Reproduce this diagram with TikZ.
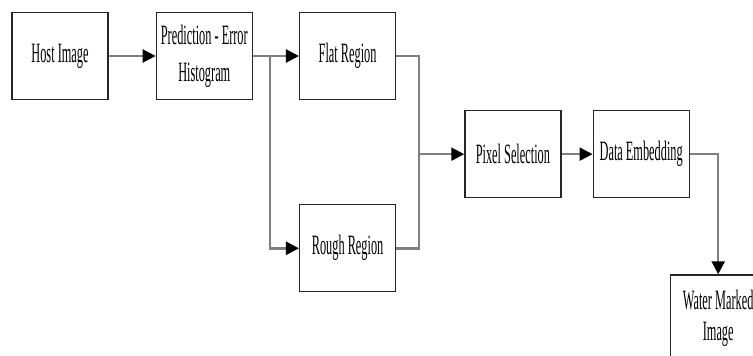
\documentclass[tikz,border=0pt]{standalone}
\usepackage{fontspec}
\setmainfont{Liberation Serif}[FakeStretch=0.44]
\usepackage{tikz}
\usetikzlibrary{arrows.meta,positioning,calc}
\tikzstyle{block} = [rectangle, draw=black!85, line width=1.3pt, minimum width=96pt, minimum height=87pt, align=center, font=\fontsize{28}{31}\selectfont]
\tikzstyle{line} = [line width=2.4pt, draw=black!50]
\tikzstyle{arrow} = [line, -{Triangle[length=13pt,width=13pt,color=black]}]

\begin{document}
\begin{tikzpicture}[x=1pt, y=-1pt]
    \clip (0,0) rectangle (753,356);
    \node[block] (host) at (60,56) {Host Image};
    \node[block, right=47pt of host] (pred) {Prediction - Error\\[6pt]Histogram};
    \node[block, right=46pt of pred] (flat) {Flat Region};
    \node[block, below=104pt of flat] (rough) {Rough Region};
    % split and merge points of the two regions
    \coordinate (split) at ($(pred.east)+(17pt,0)$);
    \coordinate (merge) at ($(flat.east)!.5!(rough.east)+(23pt,-2pt)$);
    \node[block, anchor=west] (pixel) at ($(merge)+(45pt,0)$) {Pixel Selection};
    \node[block, right=31pt of pixel] (data) {Data Embedding};
    \node[block, below=76pt of data, xshift=77pt] (water) {Water Marked\\Image};
    \draw[arrow] (host) -- (pred);
    \draw[arrow] (pred) -- (flat);
    \draw[arrow] (split) |- (rough);
    \draw[line] (flat) -| (merge) |- (rough);
    \draw[arrow] (merge) -- (pixel);
    \draw[arrow] (pixel) -- (data);
    \draw[arrow] (data) -| (water);
\end{tikzpicture}
\end{document}
